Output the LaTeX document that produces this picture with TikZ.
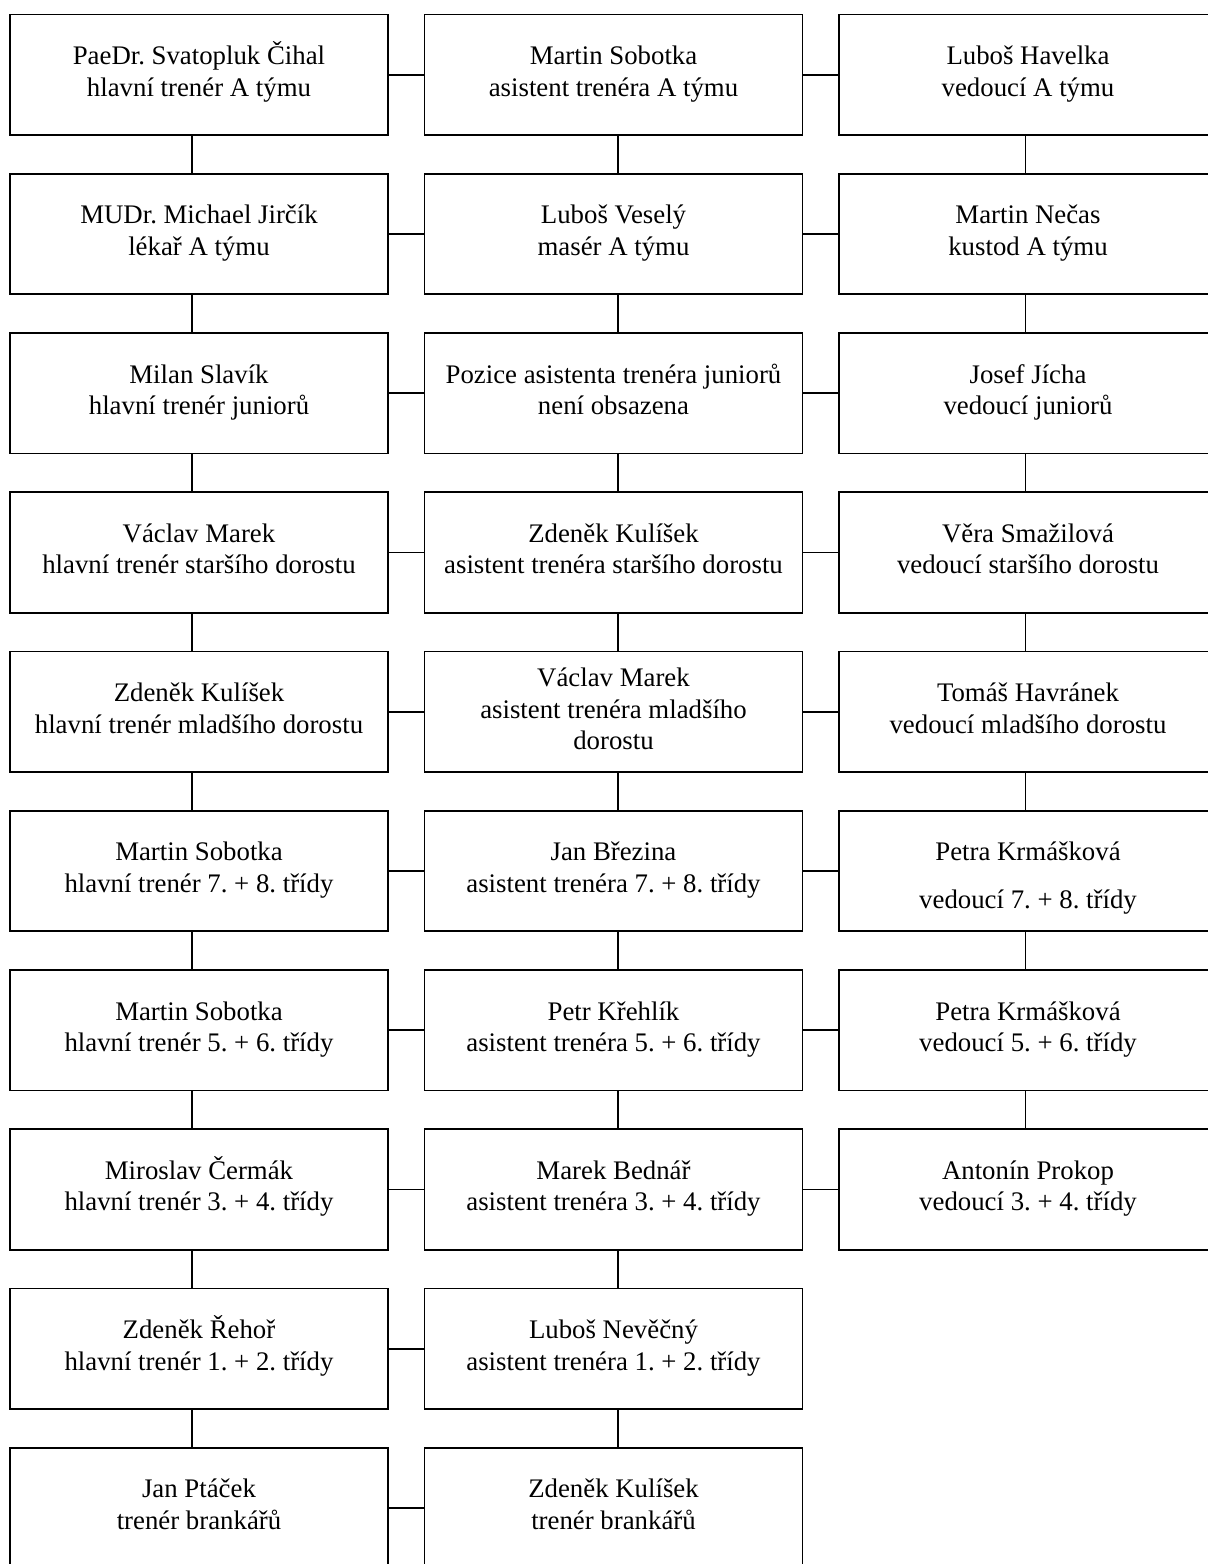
\documentclass[tikz,border=0pt]{standalone}
\usepackage{fontspec}
\setmainfont{Liberation Serif}
\frenchspacing
\tikzset{
  orgbox/.style={draw, line width=0.8pt, minimum width=189pt, minimum height=60.25pt, inner sep=0pt},
  orgtxt/.style={anchor=base, inner sep=0pt, font=\fontsize{13.4}{15.75}\selectfont},
  link/.style={line width=0.8pt},
}
% name, centre x (px), row index, first baseline below top (px), text
\newcommand\orgnode[5]{%
  \node[orgbox] (#1) at (#2,{14.5+159.25*#3+60.25}) {};
  \node[orgtxt] (#1t) at (#2,{14.5+159.25*#3+#4}) {\frenchspacing\begin{tabular}[t]{@{}c@{}}#5\end{tabular}};
}
\begin{document}
\begin{tikzpicture}[x=0.5pt,y=-0.5pt]
\useasboundingbox (0,0) rectangle (1208,1564);
\clip (0,0) rectangle (1208,1564);
% left column
\orgnode{L1}{199}{0}{50}{PaeDr. Svatopluk Čihal\\hlavní trenér A týmu}
\orgnode{L2}{199}{1}{50}{MUDr. Michael Jirčík\\lékař A týmu}
\orgnode{L3}{199}{2}{50}{Milan Slavík\\hlavní trenér juniorů}
\orgnode{L4}{199}{3}{50}{Václav Marek\\hlavní trenér staršího dorostu}
\orgnode{L5}{199}{4}{50}{Zdeněk Kulíšek\\hlavní trenér mladšího dorostu}
\orgnode{L6}{199}{5}{50}{Martin Sobotka\\hlavní trenér 7. + 8. třídy}
\orgnode{L7}{199}{6}{50}{Martin Sobotka\\hlavní trenér 5. + 6. třídy}
\orgnode{L8}{199}{7}{50}{Miroslav Čermák\\hlavní trenér 3. + 4. třídy}
\orgnode{L9}{199}{8}{50}{Zdeněk Řehoř\\hlavní trenér 1. + 2. třídy}
\orgnode{L10}{199}{9}{50}{Jan Ptáček\\trenér brankářů}
% middle column
\orgnode{M1}{613.5}{0}{50}{Martin Sobotka\\asistent trenéra A týmu}
\orgnode{M2}{613.5}{1}{50}{Luboš Veselý\\masér A týmu}
\orgnode{M3}{613.5}{2}{50}{Pozice asistenta trenéra juniorů\\není obsazena}
\orgnode{M4}{613.5}{3}{50}{Zdeněk Kulíšek\\asistent trenéra staršího dorostu}
\orgnode{M5}{613.5}{4}{35}{Václav Marek\\asistent trenéra mladšího\\dorostu}
\orgnode{M6}{613.5}{5}{50}{Jan Březina\\asistent trenéra 7. + 8. třídy}
\orgnode{M7}{613.5}{6}{50}{Petr Křehlík\\asistent trenéra 5. + 6. třídy}
\orgnode{M8}{613.5}{7}{50}{Marek Bednář\\asistent trenéra 3. + 4. třídy}
\orgnode{M9}{613.5}{8}{50}{Luboš Nevěčný\\asistent trenéra 1. + 2. třídy}
\orgnode{M10}{613.5}{9}{50}{Zdeněk Kulíšek\\trenér brankářů}
% right column
\orgnode{R1}{1028}{0}{50}{Luboš Havelka\\vedoucí A týmu}
\orgnode{R2}{1028}{1}{50}{Martin Nečas\\kustod A týmu}
\orgnode{R3}{1028}{2}{50}{Josef Jícha\\vedoucí juniorů}
\orgnode{R4}{1028}{3}{50}{Věra Smažilová\\vedoucí staršího dorostu}
\orgnode{R5}{1028}{4}{50}{Tomáš Havránek\\vedoucí mladšího dorostu}
\orgnode{R6}{1028}{5}{50}{Petra Krmášková\\[8pt]vedoucí 7. + 8. třídy}
\orgnode{R7}{1028}{6}{50}{Petra Krmášková\\vedoucí 5. + 6. třídy}
\orgnode{R8}{1028}{7}{50}{Antonín Prokop\\vedoucí 3. + 4. třídy}
% vertical connectors
\foreach \a/\b in {1/2,2/3,3/4,4/5,5/6,6/7,7/8,8/9,9/10}{
  \draw[link] ([xshift=-3.65pt]L\a.south) -- ([xshift=-3.65pt]L\b.north);
  \draw[link] ([xshift=2.25pt]M\a.south) -- ([xshift=2.25pt]M\b.north);
}
\foreach \a/\b in {1/2,2/3,3/4,4/5,5/6,6/7,7/8}{
  \draw[link] ([xshift=-1.25pt]R\a.south) -- ([xshift=-1.25pt]R\b.north);
}
% horizontal connectors
\foreach \r in {1,...,10}{
  \draw[link] (L\r.east) -- (M\r.west);
}
\foreach \r in {1,...,8}{
  \draw[link] (M\r.east) -- (R\r.west);
}
\end{tikzpicture}
\end{document}
